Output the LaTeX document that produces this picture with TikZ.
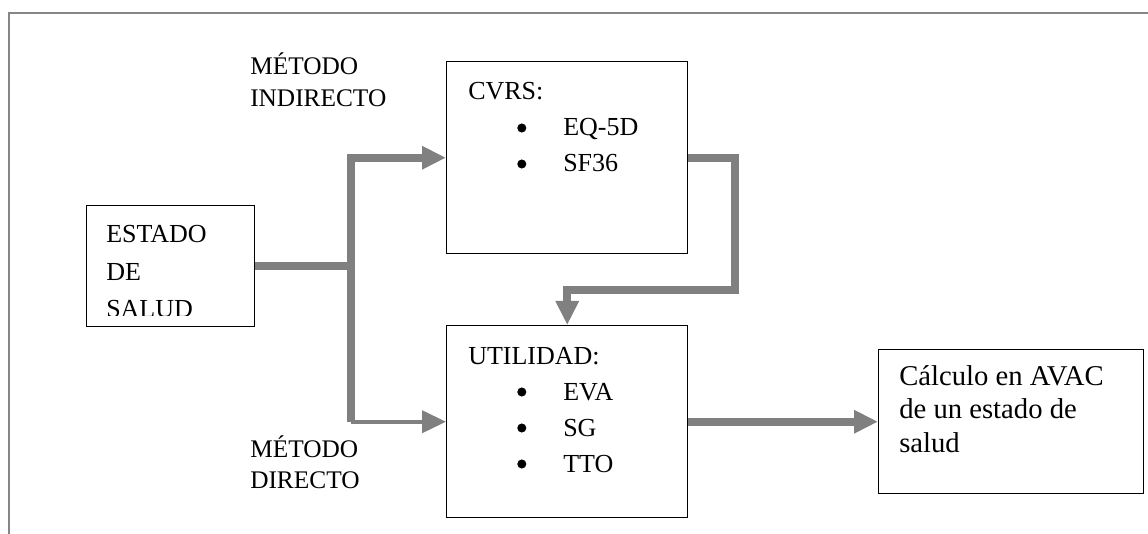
\documentclass[tikz,border=0pt]{standalone}
\usepackage{fontspec}
\setmainfont{Liberation Serif}
\usetikzlibrary{arrows.meta,calc}
\newcommand{\punto}{\tikz[baseline=0pt]\fill (3.4pt,6pt) circle (3.4pt);}
\newcommand{\bulitem}[1]{\hspace*{36.75pt}\makebox[34.5pt][l]{\punto}#1}
\tikzset{
	caja/.style={draw, line width=1.1pt, anchor=north west, inner sep=0pt},
	texto/.style={anchor=base west, align=left, inner sep=0pt, font={\fontsize{19.5}{27}\selectfont}},
	tubo/.style={draw=gray, line width=6pt},
	tubofino/.style={draw=gray, line width=3pt},
}
\begin{document}
\begin{tikzpicture}[x=0.75pt, y=-0.75pt, >={Triangle[length=18pt,width=16.5pt]}]
	\useasboundingbox (0,0) rectangle (1148,534);
	\draw[gray!95, line width=1.5pt] (9,534) -- (9,13) -- (1148,13);
	% cajas
	\node[caja, minimum width=126pt, minimum height=90.75pt] (estado) at (86,205) {};
	\node[caja, minimum width=180.75pt, minimum height=144pt] (cvrs) at (446,61) {};
	\node[caja, minimum width=180.75pt, minimum height=144pt] (utilidad) at (446,325) {};
	\node[caja, minimum width=198.75pt, minimum height=108pt] (calculo) at (878,349) {};
	% textos (anclados en la linea base de la ultima linea)
	\begin{scope}
		\clip (86,205) rectangle (254,316);
		\node[texto, font={\fontsize{19.5}{27.75}\selectfont}] (estadotxt) at (106,317) {ESTADO\\DE\\SALUD};
	\end{scope}
	\node[texto] (cvrstxt) at (468,172) {CVRS:\\\bulitem{EQ-5D}\\\bulitem{SF36}};
	\node[texto] (utilidadtxt) at (468,472) {UTILIDAD:\\\bulitem{EVA}\\\bulitem{SG}\\\bulitem{TTO}};
	\node[texto, font={\fontsize{21.5}{25}\selectfont}] (calculotxt) at (899,452) {Cálculo en AVAC\\de un estado de\\salud};
	\node[texto, font={\fontsize{19}{24}\selectfont}] (indirecto) at (250,107) {MÉTODO\\INDIRECTO};
	\node[texto, font={\fontsize{19}{23.25}\selectfont}] (directo) at (250,488) {MÉTODO\\DIRECTO};
	% conectores
	\coordinate (rama) at ($(estado.east)+(96,0)$);
	\coordinate (codo) at ($(cvrs.east)+(47,132)$);
	\draw[tubo] (estado.east) -- (rama);
	\draw[tubo, ->] (rama) |- (cvrs.west);
	\draw[tubo] (rama) -- (rama |- utilidad.west);
	\draw[tubofino, ->] (rama |- utilidad.west) -- (utilidad.west);
	\draw[tubo, ->] (cvrs.east) -| (codo) -| (utilidad.north);
	\draw[tubo, ->] (utilidad.east) -- (calculo.west);
\end{tikzpicture}
\end{document}
